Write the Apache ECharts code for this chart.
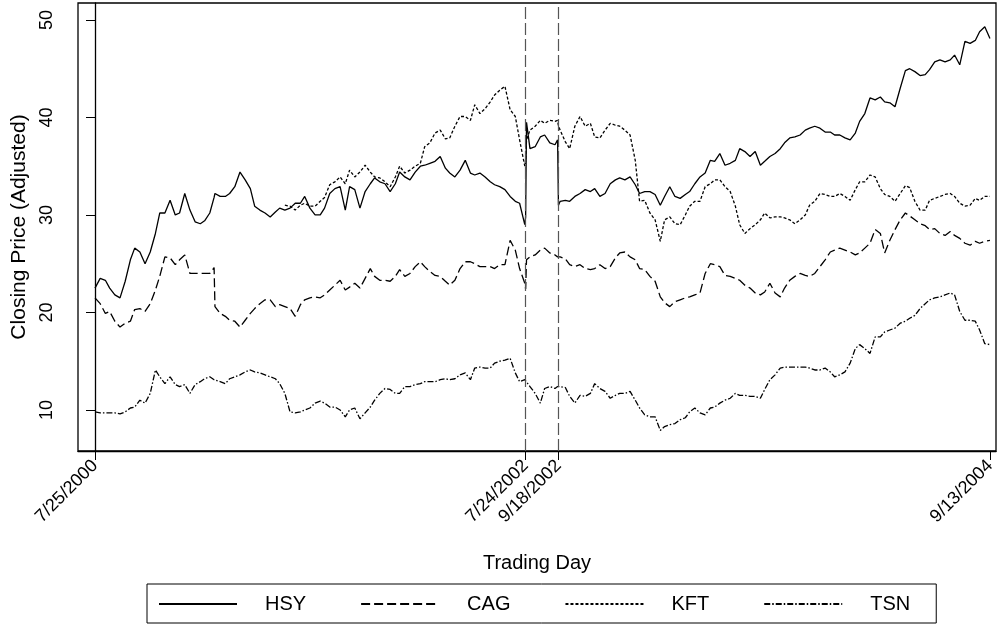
<!DOCTYPE html>
<html><head><meta charset="utf-8">
<script src="https://cdn.jsdelivr.net/npm/echarts@6/dist/echarts.min.js"></script>
<style>html,body{margin:0;padding:0;background:#fff}#c{width:997px;height:638px}</style>
</head><body><div id="c"></div>
<script>
// Trading-day index (0 = 7/25/2000) of each sampled point
const tradingDays = [
  0,6,12,17,23,29,35,41,46,52,
  58,64,70,75,81,87,93,98,104,110,
  116,122,127,133,138,139,145,151,156,162,168,
  174,180,185,191,197,203,209,214,220,226,
  232,238,243,249,255,261,266,272,278,284,
  290,295,301,307,313,319,324,330,336,342,
  348,353,359,365,371,377,382,388,394,400,
  406,411,417,423,429,435,440,446,452,458,
  463,469,475,481,487,492,498,499,500,504,510,516,
  521,527,533,536,537,539,545,550,556,562,568,574,
  579,585,591,597,603,608,614,620,626,631,
  637,643,649,655,660,666,672,678,684,689,
  695,701,707,713,718,724,730,736,742,747,
  753,759,765,771,776,782,788,794,799,805,
  811,817,823,828,834,840,846,852,857,863,
  869,875,881,886,892,898,904,910,915,921,
  927,933,939,944,950,956,962,967,973,979,
  985,991,996,1002,1008,1014,1020,1025,1031,1037
];
const hsy = [
  22.5,23.5,23.3,22.5,21.8,21.5,23.2,25.4,26.6,26.2,
  25.0,26.2,28.1,30.2,30.2,31.5,30.0,30.2,32.2,30.5,
  29.3,29.1,29.4,30.2,31.8,32.2,31.9,31.9,32.2,32.9,34.4,
  33.6,32.7,30.9,30.5,30.2,29.8,30.3,30.7,30.5,30.7,
  31.2,31.2,31.9,30.7,30.0,30.0,30.7,32.2,32.7,32.9,
  30.5,32.9,32.6,30.7,32.4,33.2,33.8,33.4,33.2,32.4,
  33.2,34.4,33.9,33.6,34.4,35.0,35.1,35.3,35.5,36.0,
  34.8,34.3,33.9,34.6,35.6,34.3,34.1,34.3,33.9,33.4,
  33.1,32.9,32.6,31.9,31.4,31.2,29.0,29.8,39.5,36.8,37.0,38.0,
  38.2,37.4,37.2,37.7,31.0,31.4,31.5,31.4,31.9,32.2,32.6,32.4,
  32.7,31.9,32.2,33.2,33.6,33.8,33.6,33.9,33.1,32.2,
  32.4,32.4,32.1,31.0,31.9,32.9,31.9,31.7,32.1,32.4,
  33.2,33.9,34.3,35.6,35.5,36.3,35.1,35.3,35.6,36.8,
  36.5,36.0,36.5,35.1,35.5,36.0,36.3,36.8,37.4,37.9,
  38.0,38.2,38.7,38.9,39.1,38.9,38.5,38.5,38.2,38.2,
  37.9,37.7,38.4,39.6,40.4,42.0,41.8,42.1,41.6,41.5,
  41.1,43.0,44.8,45.0,44.7,44.3,44.4,44.9,45.7,45.9,
  45.7,45.9,46.4,45.4,47.8,47.6,47.9,48.8,49.3,48.1
];
const cag = [
  21.5,20.9,19.9,20.1,19.1,18.5,18.9,19.1,20.3,20.4,
  20.1,20.9,22.3,23.7,25.7,25.6,24.9,25.4,25.9,24.0,
  24.0,24.0,24.0,24.0,24.6,20.6,19.9,19.6,19.2,19.1,18.5,
  19.2,19.9,20.4,20.9,21.3,21.3,20.6,20.8,20.6,20.4,
  19.6,20.8,21.3,21.5,21.6,21.5,21.8,22.3,22.8,23.3,
  22.3,22.6,23.0,22.5,23.5,24.5,23.7,23.3,23.3,23.2,
  23.7,24.4,23.7,24.0,24.7,25.2,24.7,24.2,23.8,23.7,
  23.2,22.8,23.3,24.5,25.2,25.2,25.0,24.7,24.7,24.7,
  24.5,24.9,24.9,27.4,26.4,24.5,23.0,22.4,25.4,25.7,25.9,26.4,
  26.6,26.1,25.9,25.7,25.6,25.7,25.5,24.9,24.7,24.9,24.5,24.4,
  24.5,24.9,24.5,24.7,25.6,26.1,26.2,25.7,25.4,24.5,
  24.4,23.7,23.2,21.6,21.0,20.6,21.1,21.3,21.5,21.6,
  21.8,22.0,24.0,25.0,24.9,24.7,23.8,23.7,23.5,23.3,
  22.8,22.5,22.0,21.8,22.1,23.0,22.0,21.6,22.5,23.3,
  23.7,24.0,23.8,23.7,24.0,24.7,25.4,26.2,26.4,26.6,
  26.4,26.2,25.9,26.1,26.6,27.1,28.5,28.1,26.1,27.4,
  28.5,29.5,30.2,29.9,29.5,29.1,28.9,28.5,28.6,28.1,
  27.9,28.3,27.9,27.6,27.1,26.9,27.3,27.1,27.3,27.4
];
const kft = [
  null,null,null,null,null,null,null,null,null,null,
  null,null,null,null,null,null,null,null,null,null,
  null,null,null,null,null,null,null,null,null,null,null,
  null,null,null,null,null,null,null,null,31.0,30.9,
  30.5,31.0,31.2,30.9,30.9,31.4,31.8,33.1,33.4,33.9,
  33.2,34.6,33.9,34.4,35.1,34.4,33.9,33.8,33.4,32.9,
  33.9,35.0,34.3,34.6,35.0,35.3,37.0,37.4,38.4,38.7,
  37.8,37.9,39.1,40.1,40.1,39.7,41.3,40.4,40.9,41.6,
  42.3,42.8,43.2,40.8,40.1,37.7,35.0,35.6,37.7,38.7,39.1,39.7,
  39.4,39.7,39.6,39.7,39.1,38.7,37.5,36.8,39.1,40.1,39.1,39.4,
  38.0,37.9,38.7,39.4,39.2,39.1,38.7,38.2,35.6,31.4,
  31.5,30.2,29.5,27.3,29.5,29.8,29.1,29.0,30.0,30.9,
  31.4,31.4,32.9,33.2,33.6,33.6,32.9,32.4,30.9,29.0,
  28.1,28.6,29.0,29.5,30.2,29.7,29.8,29.8,29.7,29.5,
  29.1,29.5,30.0,31.0,31.4,32.2,32.1,31.9,31.9,32.2,
  31.9,31.5,32.6,33.4,33.4,34.1,33.9,32.7,32.1,31.9,
  31.4,32.2,33.0,32.8,31.4,30.5,30.5,31.5,31.7,31.9,
  32.1,32.2,31.9,31.2,30.9,31.0,31.7,31.5,31.9,31.9
];
const tsn = [
  9.8,9.7,9.7,9.7,9.7,9.6,9.8,10.2,10.3,11.0,
  10.7,11.7,14.1,13.4,12.7,13.4,12.6,12.4,12.6,11.7,
  12.6,12.9,13.2,13.4,13.1,13.1,12.9,12.7,13.2,13.4,13.6,
  13.9,14.1,13.9,13.8,13.6,13.4,13.2,12.7,11.7,9.8,
  9.7,9.8,10.0,10.2,10.7,10.9,10.7,10.3,10.3,10.0,
  9.3,10.0,10.2,9.1,9.7,10.3,11.0,11.7,12.2,12.1,
  11.7,11.7,12.4,12.4,12.6,12.7,12.9,12.9,12.9,13.1,
  13.2,13.1,13.2,13.6,13.8,13.1,14.3,14.4,14.3,14.3,
  14.8,15.0,15.1,15.3,13.8,12.9,13.1,12.9,13.1,12.4,11.7,10.7,
  12.2,12.4,12.2,12.4,12.4,12.4,12.3,11.4,10.7,11.5,11.4,11.7,
  12.7,12.2,11.9,11.2,11.5,11.7,11.7,11.9,11.0,10.2,
  9.5,9.3,9.3,7.9,8.3,8.5,8.6,9.0,9.2,9.8,
  10.2,9.7,9.5,10.2,10.3,10.7,11.0,11.2,11.7,11.5,
  11.5,11.4,11.4,11.2,12.1,13.1,13.6,14.3,14.4,14.4,
  14.4,14.4,14.4,14.3,14.1,14.1,14.3,13.9,13.4,13.6,
  13.9,14.8,16.3,16.7,16.3,15.8,17.5,17.5,18.0,18.2,
  18.4,18.9,19.1,19.4,19.7,20.4,20.9,21.3,21.5,21.6,
  21.8,22.0,21.8,20.1,19.2,19.2,19.1,18.2,16.8,16.7
];
const seriesNames = ['HSY','CAG','KFT','TSN'];
const tickDays = [0, 499, 537, 1037];
const tickLabels = ['7/25/2000','7/24/2002','9/18/2002','9/13/2004'];
const yTicks = [10, 20, 30, 40, 50];
const eventDays = [499, 537];

const FONT = 'Liberation Sans, Arial, Helvetica, sans-serif';
const pairs = vals => tradingDays.map((d, i) => [d, vals[i]]);
const dashes = [null, [9, 4], [3, 2], [6, 2, 1.5, 2]];
const valueSets = [hsy, cag, kft, tsn];

const chart = echarts.init(document.getElementById('c'), null, {renderer: 'canvas'});
const series = seriesNames.map((name, k) => ({
  name, type: 'line', data: pairs(valueSets[k]),
  showSymbol: false, symbol: 'none', legendIcon: 'none', connectNulls: false,
  lineStyle: {color: '#000', width: 1.3, type: dashes[k] || 'solid'},
  itemStyle: {color: '#000'},
  emphasis: {disabled: true},
  z: 3
}));
series[0].markLine = {
  silent: true, symbol: ['none', 'none'], label: {show: false},
  lineStyle: {color: '#555', width: 1.2, type: [12, 4]},
  data: eventDays.map(d => ({xAxis: d}))
};
chart.setOption({
  animation: false,
  backgroundColor: '#fff',
  textStyle: {fontFamily: FONT, color: '#000'},
  grid: {left: 78, top: 3, right: 1, bottom: 187, show: true, borderColor: '#000', borderWidth: 1.3,
         containLabel: false, outerBoundsMode: 'none'},
  xAxis: {
    type: 'value', min: -19.7, max: 1044,
    name: 'Trading Day', nameLocation: 'middle', nameGap: 102,
    nameTextStyle: {fontSize: 20, fontFamily: FONT, color: '#000'},
    axisLine: {show: true, onZero: false, lineStyle: {color: '#000', width: 1.3}},
    axisTick: {show: true, length: 9, customValues: tickDays, lineStyle: {color: '#000', width: 1}},
    axisLabel: {show: true, customValues: tickDays, rotate: 45, margin: 12, fontSize: 18,
      fontFamily: FONT, color: '#000', hideOverlap: false,
      formatter: v => tickLabels[tickDays.indexOf(v)] || ''},
    splitLine: {show: false}
  },
  yAxis: {
    type: 'value', min: 5.79, max: 51.74,
    name: 'Closing Price (Adjusted)', nameLocation: 'middle', nameGap: 48, nameRotate: 90,
    nameTextStyle: {fontSize: 21, fontFamily: FONT, color: '#000'},
    axisLine: {show: true, lineStyle: {color: '#000', width: 1.3}},
    axisTick: {show: true, length: 9, customValues: yTicks, lineStyle: {color: '#000', width: 1}},
    axisLabel: {show: true, customValues: yTicks, rotate: 90, margin: 22, fontSize: 18,
      fontFamily: FONT, color: '#000', hideOverlap: false},
    splitLine: {show: false}
  },
  legend: {
    data: seriesNames, orient: 'horizontal', left: 147, top: 584,
    padding: [10, 26, 9, 11], itemGap: 54, itemWidth: 78, itemHeight: 20,
    borderColor: '#000', borderWidth: 1, selectedMode: false,
    itemStyle: {opacity: 0, borderWidth: 0},
    textStyle: {fontSize: 20, fontFamily: FONT, color: '#000', padding: [0, 0, 0, 23]}
  },
  series
});
</script></body></html>
